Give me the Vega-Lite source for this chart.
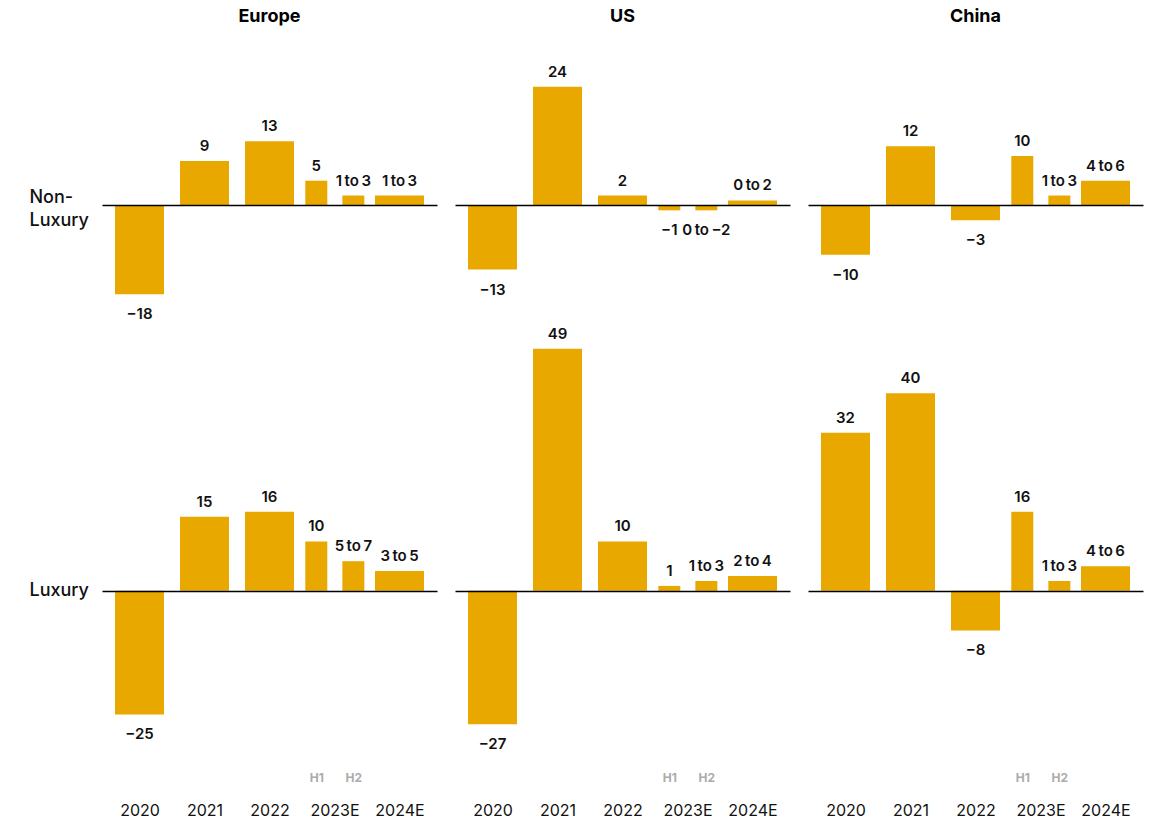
{
  "$schema": "https://vega.github.io/schema/vega-lite/v6.json",
  "padding": {"left": 29, "top": 8, "right": 5, "bottom": 5},
  "config": {
    "font": "Inter",
    "view": {"stroke": null},
    "title": {"fontSize": 18, "fontWeight": "bold", "color": "#000000", "offset": 9, "anchor": "middle"},
    "text": {"fontSize": 15, "fontWeight": 600, "color": "#111111", "baseline": "middle"},
    "bar": {"color": "#E9A800"}
  },
  "datasets": {
    "d": [
      {"region": "Europe", "segment": "Non-Luxury", "period": "2020", "kind": "full", "x": 2020, "value": -18, "label": "\u221218"},
      {"region": "Europe", "segment": "Non-Luxury", "period": "2021", "kind": "full", "x": 2021, "value": 9, "label": "9"},
      {"region": "Europe", "segment": "Non-Luxury", "period": "2022", "kind": "full", "x": 2022, "value": 13, "label": "13"},
      {"region": "Europe", "segment": "Non-Luxury", "period": "2023E H1", "kind": "half", "x": 2022.72, "value": 5, "label": "5"},
      {"region": "Europe", "segment": "Non-Luxury", "period": "2023E H2", "kind": "half", "x": 2023.29, "value": 2, "label": "1\u2009to\u20093"},
      {"region": "Europe", "segment": "Non-Luxury", "period": "2024E", "kind": "full", "x": 2024, "value": 2, "label": "1\u2009to\u20093"},
      {"region": "Europe", "segment": "Luxury", "period": "2020", "kind": "full", "x": 2020, "value": -25, "label": "\u221225"},
      {"region": "Europe", "segment": "Luxury", "period": "2021", "kind": "full", "x": 2021, "value": 15, "label": "15"},
      {"region": "Europe", "segment": "Luxury", "period": "2022", "kind": "full", "x": 2022, "value": 16, "label": "16"},
      {"region": "Europe", "segment": "Luxury", "period": "2023E H1", "kind": "half", "x": 2022.72, "value": 10, "label": "10"},
      {"region": "Europe", "segment": "Luxury", "period": "2023E H2", "kind": "half", "x": 2023.29, "value": 6, "label": "5\u2009to\u20097"},
      {"region": "Europe", "segment": "Luxury", "period": "2024E", "kind": "full", "x": 2024, "value": 4, "label": "3\u2009to\u20095"},
      {"region": "US", "segment": "Non-Luxury", "period": "2020", "kind": "full", "x": 2020, "value": -13, "label": "\u221213"},
      {"region": "US", "segment": "Non-Luxury", "period": "2021", "kind": "full", "x": 2021, "value": 24, "label": "24"},
      {"region": "US", "segment": "Non-Luxury", "period": "2022", "kind": "full", "x": 2022, "value": 2, "label": "2"},
      {"region": "US", "segment": "Non-Luxury", "period": "2023E H1", "kind": "half", "x": 2022.72, "value": -1, "label": "\u22121"},
      {"region": "US", "segment": "Non-Luxury", "period": "2023E H2", "kind": "half", "x": 2023.29, "value": -1, "label": "0\u2009to\u2009\u22122"},
      {"region": "US", "segment": "Non-Luxury", "period": "2024E", "kind": "full", "x": 2024, "value": 1, "label": "0\u2009to\u20092"},
      {"region": "US", "segment": "Luxury", "period": "2020", "kind": "full", "x": 2020, "value": -27, "label": "\u221227"},
      {"region": "US", "segment": "Luxury", "period": "2021", "kind": "full", "x": 2021, "value": 49, "label": "49"},
      {"region": "US", "segment": "Luxury", "period": "2022", "kind": "full", "x": 2022, "value": 10, "label": "10"},
      {"region": "US", "segment": "Luxury", "period": "2023E H1", "kind": "half", "x": 2022.72, "value": 1, "label": "1"},
      {"region": "US", "segment": "Luxury", "period": "2023E H2", "kind": "half", "x": 2023.29, "value": 2, "label": "1\u2009to\u20093"},
      {"region": "US", "segment": "Luxury", "period": "2024E", "kind": "full", "x": 2024, "value": 3, "label": "2\u2009to\u20094"},
      {"region": "China", "segment": "Non-Luxury", "period": "2020", "kind": "full", "x": 2020, "value": -10, "label": "\u221210"},
      {"region": "China", "segment": "Non-Luxury", "period": "2021", "kind": "full", "x": 2021, "value": 12, "label": "12"},
      {"region": "China", "segment": "Non-Luxury", "period": "2022", "kind": "full", "x": 2022, "value": -3, "label": "\u22123"},
      {"region": "China", "segment": "Non-Luxury", "period": "2023E H1", "kind": "half", "x": 2022.72, "value": 10, "label": "10"},
      {"region": "China", "segment": "Non-Luxury", "period": "2023E H2", "kind": "half", "x": 2023.29, "value": 2, "label": "1\u2009to\u20093"},
      {"region": "China", "segment": "Non-Luxury", "period": "2024E", "kind": "full", "x": 2024, "value": 5, "label": "4\u2009to\u20096"},
      {"region": "China", "segment": "Luxury", "period": "2020", "kind": "full", "x": 2020, "value": 32, "label": "32"},
      {"region": "China", "segment": "Luxury", "period": "2021", "kind": "full", "x": 2021, "value": 40, "label": "40"},
      {"region": "China", "segment": "Luxury", "period": "2022", "kind": "full", "x": 2022, "value": -8, "label": "\u22128"},
      {"region": "China", "segment": "Luxury", "period": "2023E H1", "kind": "half", "x": 2022.72, "value": 16, "label": "16"},
      {"region": "China", "segment": "Luxury", "period": "2023E H2", "kind": "half", "x": 2023.29, "value": 2, "label": "1\u2009to\u20093"},
      {"region": "China", "segment": "Luxury", "period": "2024E", "kind": "full", "x": 2024, "value": 5, "label": "4\u2009to\u20096"}
    ]
  },
  "data": {"name": "d"},
  "spacing": 1,
  "vconcat": [
    {
      "spacing": 18,
      "hconcat": [
        {
          "width": 335, "height": 284,
          "title": "Europe",
          "transform": [{"filter": "datum.region == 'Europe' && datum.segment == 'Non-Luxury'"}],
          "encoding": {
            "x": {"field": "x", "type": "quantitative", "scale": {"domain": [2019.5, 2024.5], "nice": false, "zero": false}, "axis": null},
            "y": {"field": "value", "type": "quantitative", "scale": {"domain": [-23, 34.5], "nice": false, "zero": false},
              "axis": {"values": [0], "grid": true, "gridColor": "#000000", "gridWidth": 1.3, "gridOpacity": 1, "domain": false, "ticks": false, "title": null, "zindex": 1,
                "labelExpr": "['Non-', 'Luxury']", "labelAlign": "left", "labelBaseline": "middle", "labelOffset": -8, "labelPadding": 73, "labelFontSize": 18, "labelFontWeight": 500, "labelColor": "#111111", "labelLineHeight": 23, "labelOverlap": false}}
          },
          "layer": [
            {"transform": [{"filter": "datum.kind == 'full'"}], "mark": {"type": "bar", "size": 49}},
            {"transform": [{"filter": "datum.kind == 'half'"}], "mark": {"type": "bar", "size": 22}},
            {"transform": [{"filter": "datum.value >= 0"}], "mark": {"type": "text", "dy": -15}, "encoding": {"text": {"field": "label"}}},
            {"transform": [{"filter": "datum.value < 0"}], "mark": {"type": "text", "dy": 20}, "encoding": {"text": {"field": "label"}}}
          ]
        },
        {
          "width": 335, "height": 284,
          "title": "US",
          "transform": [{"filter": "datum.region == 'US' && datum.segment == 'Non-Luxury'"}],
          "encoding": {
            "x": {"field": "x", "type": "quantitative", "scale": {"domain": [2019.5, 2024.5], "nice": false, "zero": false}, "axis": null},
            "y": {"field": "value", "type": "quantitative", "scale": {"domain": [-23, 34.5], "nice": false, "zero": false},
              "axis": {"values": [0], "grid": true, "gridColor": "#000000", "gridWidth": 1.3, "gridOpacity": 1, "domain": false, "ticks": false, "labels": false, "title": null, "zindex": 1}}
          },
          "layer": [
            {"transform": [{"filter": "datum.kind == 'full'"}], "mark": {"type": "bar", "size": 49}},
            {"transform": [{"filter": "datum.kind == 'half'"}], "mark": {"type": "bar", "size": 22}},
            {"transform": [{"filter": "datum.value >= 0"}], "mark": {"type": "text", "dy": -15}, "encoding": {"text": {"field": "label"}}},
            {"transform": [{"filter": "datum.value < 0"}], "mark": {"type": "text", "dy": 20}, "encoding": {"text": {"field": "label"}}}
          ]
        },
        {
          "width": 335, "height": 284,
          "title": "China",
          "transform": [{"filter": "datum.region == 'China' && datum.segment == 'Non-Luxury'"}],
          "encoding": {
            "x": {"field": "x", "type": "quantitative", "scale": {"domain": [2019.5, 2024.5], "nice": false, "zero": false}, "axis": null},
            "y": {"field": "value", "type": "quantitative", "scale": {"domain": [-23, 34.5], "nice": false, "zero": false},
              "axis": {"values": [0], "grid": true, "gridColor": "#000000", "gridWidth": 1.3, "gridOpacity": 1, "domain": false, "ticks": false, "labels": false, "title": null, "zindex": 1}}
          },
          "layer": [
            {"transform": [{"filter": "datum.kind == 'full'"}], "mark": {"type": "bar", "size": 49}},
            {"transform": [{"filter": "datum.kind == 'half'"}], "mark": {"type": "bar", "size": 22}},
            {"transform": [{"filter": "datum.value >= 0"}], "mark": {"type": "text", "dy": -15}, "encoding": {"text": {"field": "label"}}},
            {"transform": [{"filter": "datum.value < 0"}], "mark": {"type": "text", "dy": 20}, "encoding": {"text": {"field": "label"}}}
          ]
        }
      ]
    },
    {
      "spacing": 18,
      "hconcat": [
        {
          "width": 335, "height": 425,
          "transform": [{"filter": "datum.region == 'Europe' && datum.segment == 'Luxury'"}],
          "encoding": {
            "x": {"field": "x", "type": "quantitative", "scale": {"domain": [2019.5, 2024.5], "nice": false, "zero": false},
              "axis": {"values": [2020, 2021, 2022, 2022.72, 2023, 2023.29, 2024], "labelExpr": "datum.value == 2022.72 ? 'H1' : datum.value == 2023.29 ? 'H2' : datum.value >= 2023 ? datum.value + 'E' : '' + datum.value",
                "domain": false, "ticks": false, "grid": false, "title": null, "labelOverlap": false, "labelFlush": false, "labelBound": false, "labelBaseline": "top",
                "labelPadding": {"condition": {"test": "datum.value == 2022.72 || datum.value == 2023.29", "value": 23}, "value": 53},
                "labelFontSize": {"condition": {"test": "datum.value == 2022.72 || datum.value == 2023.29", "value": 12}, "value": 16},
                "labelFontWeight": {"condition": {"test": "datum.value == 2022.72 || datum.value == 2023.29", "value": "bold"}, "value": "normal"},
                "labelColor": {"condition": {"test": "datum.value == 2022.72 || datum.value == 2023.29", "value": "#ABABAB"}, "value": "#111111"}}},
            "y": {"field": "value", "type": "quantitative", "scale": {"domain": [-32, 54], "nice": false, "zero": false},
              "axis": {"values": [0], "grid": true, "gridColor": "#000000", "gridWidth": 1.3, "gridOpacity": 1, "domain": false, "ticks": false, "title": null, "zindex": 1,
                "labelExpr": "'Luxury'", "labelAlign": "left", "labelBaseline": "middle", "labelPadding": 73, "labelFontSize": 18, "labelFontWeight": 500, "labelColor": "#111111", "labelOverlap": false}}
          },
          "layer": [
            {"transform": [{"filter": "datum.kind == 'full'"}], "mark": {"type": "bar", "size": 49}},
            {"transform": [{"filter": "datum.kind == 'half'"}], "mark": {"type": "bar", "size": 22}},
            {"transform": [{"filter": "datum.value >= 0"}], "mark": {"type": "text", "dy": -15}, "encoding": {"text": {"field": "label"}}},
            {"transform": [{"filter": "datum.value < 0"}], "mark": {"type": "text", "dy": 20}, "encoding": {"text": {"field": "label"}}}
          ]
        },
        {
          "width": 335, "height": 425,
          "transform": [{"filter": "datum.region == 'US' && datum.segment == 'Luxury'"}],
          "encoding": {
            "x": {"field": "x", "type": "quantitative", "scale": {"domain": [2019.5, 2024.5], "nice": false, "zero": false},
              "axis": {"values": [2020, 2021, 2022, 2022.72, 2023, 2023.29, 2024], "labelExpr": "datum.value == 2022.72 ? 'H1' : datum.value == 2023.29 ? 'H2' : datum.value >= 2023 ? datum.value + 'E' : '' + datum.value",
                "domain": false, "ticks": false, "grid": false, "title": null, "labelOverlap": false, "labelFlush": false, "labelBound": false, "labelBaseline": "top",
                "labelPadding": {"condition": {"test": "datum.value == 2022.72 || datum.value == 2023.29", "value": 23}, "value": 53},
                "labelFontSize": {"condition": {"test": "datum.value == 2022.72 || datum.value == 2023.29", "value": 12}, "value": 16},
                "labelFontWeight": {"condition": {"test": "datum.value == 2022.72 || datum.value == 2023.29", "value": "bold"}, "value": "normal"},
                "labelColor": {"condition": {"test": "datum.value == 2022.72 || datum.value == 2023.29", "value": "#ABABAB"}, "value": "#111111"}}},
            "y": {"field": "value", "type": "quantitative", "scale": {"domain": [-32, 54], "nice": false, "zero": false},
              "axis": {"values": [0], "grid": true, "gridColor": "#000000", "gridWidth": 1.3, "gridOpacity": 1, "domain": false, "ticks": false, "labels": false, "title": null, "zindex": 1}}
          },
          "layer": [
            {"transform": [{"filter": "datum.kind == 'full'"}], "mark": {"type": "bar", "size": 49}},
            {"transform": [{"filter": "datum.kind == 'half'"}], "mark": {"type": "bar", "size": 22}},
            {"transform": [{"filter": "datum.value >= 0"}], "mark": {"type": "text", "dy": -15}, "encoding": {"text": {"field": "label"}}},
            {"transform": [{"filter": "datum.value < 0"}], "mark": {"type": "text", "dy": 20}, "encoding": {"text": {"field": "label"}}}
          ]
        },
        {
          "width": 335, "height": 425,
          "transform": [{"filter": "datum.region == 'China' && datum.segment == 'Luxury'"}],
          "encoding": {
            "x": {"field": "x", "type": "quantitative", "scale": {"domain": [2019.5, 2024.5], "nice": false, "zero": false},
              "axis": {"values": [2020, 2021, 2022, 2022.72, 2023, 2023.29, 2024], "labelExpr": "datum.value == 2022.72 ? 'H1' : datum.value == 2023.29 ? 'H2' : datum.value >= 2023 ? datum.value + 'E' : '' + datum.value",
                "domain": false, "ticks": false, "grid": false, "title": null, "labelOverlap": false, "labelFlush": false, "labelBound": false, "labelBaseline": "top",
                "labelPadding": {"condition": {"test": "datum.value == 2022.72 || datum.value == 2023.29", "value": 23}, "value": 53},
                "labelFontSize": {"condition": {"test": "datum.value == 2022.72 || datum.value == 2023.29", "value": 12}, "value": 16},
                "labelFontWeight": {"condition": {"test": "datum.value == 2022.72 || datum.value == 2023.29", "value": "bold"}, "value": "normal"},
                "labelColor": {"condition": {"test": "datum.value == 2022.72 || datum.value == 2023.29", "value": "#ABABAB"}, "value": "#111111"}}},
            "y": {"field": "value", "type": "quantitative", "scale": {"domain": [-32, 54], "nice": false, "zero": false},
              "axis": {"values": [0], "grid": true, "gridColor": "#000000", "gridWidth": 1.3, "gridOpacity": 1, "domain": false, "ticks": false, "labels": false, "title": null, "zindex": 1}}
          },
          "layer": [
            {"transform": [{"filter": "datum.kind == 'full'"}], "mark": {"type": "bar", "size": 49}},
            {"transform": [{"filter": "datum.kind == 'half'"}], "mark": {"type": "bar", "size": 22}},
            {"transform": [{"filter": "datum.value >= 0"}], "mark": {"type": "text", "dy": -15}, "encoding": {"text": {"field": "label"}}},
            {"transform": [{"filter": "datum.value < 0"}], "mark": {"type": "text", "dy": 20}, "encoding": {"text": {"field": "label"}}}
          ]
        }
      ]
    }
  ]
}
